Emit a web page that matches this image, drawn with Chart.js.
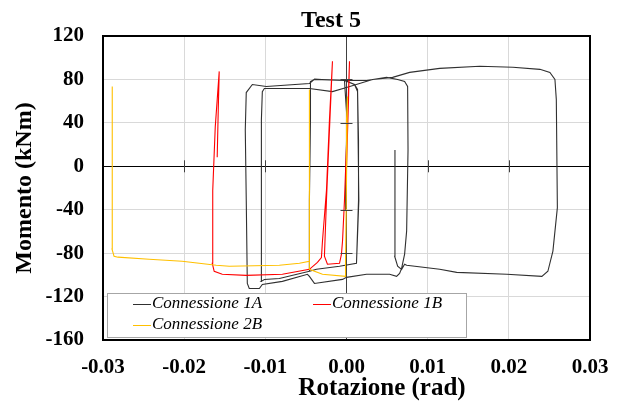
<!DOCTYPE html>
<html>
<head>
<meta charset="utf-8">
<script src="https://cdn.jsdelivr.net/npm/chart.js@4.4.1/dist/chart.umd.min.js"></script>
<style>
  html, body { margin: 0; padding: 0; background: #fff; }
  #box { width: 625px; height: 403px; }
</style>
</head>
<body>
<div id="box"><canvas id="testChart"></canvas></div>
<script>
// dati (rotazione in rad, momento in kNm)
var rot1A = [0, 0, -0.00012, -0.00012, 0, 0, -0.00025, 0.00099, 0.00136, 0.00148, 0.00148, 0.00123, -0.00086, -0.0037, -0.00457,
  -0.00457, -0.00444, -0.00444, -0.00395, -0.00025, 0.00247, 0.00494, 0.0063, 0.00716, 0.00753, 0.00758, 0.00741, 0.00716,
  0.00679, 0.00654, 0.00617, 0.00531, 0.00247, 0, -0.00049, -0.00395, -0.00457, -0.00481, -0.0079, -0.01037, -0.01074,
  -0.01198, -0.01222, -0.01235, -0.01247, -0.01235, -0.0116, -0.00988, -0.00457, -0.00395, -0.00025, 0.00099, 0.00136,
  0.00152, 0.00123, -0.00086, -0.0037, -0.00457, -0.00827, -0.01012, -0.01049, -0.01045, -0.01052, -0.01037, -0.01012,
  -0.00457, -0.00173, 0, 0.00321, 0.00568, 0.00778, 0.01148, 0.01642, 0.0205, 0.02383, 0.02506, 0.02568, 0.02585, 0.02598,
  0.02543, 0.02481, 0.02407, 0.01975, 0.01358, 0.01148, 0.00741, 0.00716, 0.00679, 0.0063, 0.00593, 0.00597];
var mom1A = [0, 24.2, -22.3, -40.9, 10, 50, 79.1, 75.3, 70.7, 24.2, -31.6, -89.3, -92.1, -94.9, -96.7,
  -31.6, 42.8, 78.1, 80, 79.1, 79, 81.9, 80, 78.1, 73.5, 14.9, -59.5, -80.9,
  -94, -98.6, -101.4, -99.5, -99.5, -102.3, -104.2, -107.9, -101.4, -99.5, -106, -108.8, -112.6,
  -112.6, -107.9, -31.6, 33.5, 67.9, 75.3, 73.5, 76.3, 80, 79.1, 75.3, 68.8,
  -31.6, -89.3, -92.1, -94.9, -96.7, -103.3, -104.2, -106, -31.6, 42.8, 68.8, 71.6,
  71.6, 68.8, 72.6, 80, 81.9, 86.5, 90.2, 92.1, 91.2, 89.3, 86.5, 80, 61.4, -38.1,
  -78.1, -96.7, -101.4, -99.5, -97.7, -94.9, -91.2, -90.2, -94.9, -92.1, -82.8, 14.9];

var rot1B = [0, 0.00025, 0.00037, 0.00012, -0.00025, -0.00049, -0.00062, -0.00086, -0.00235, -0.00272, -0.00247, -0.0021,
  -0.00173, -0.0021, -0.00247, -0.00296, -0.00309, -0.00358, -0.00457, -0.0079, -0.01235, -0.01531, -0.0163, -0.01654,
  -0.01648, -0.01617, -0.01593, -0.01568, -0.0158, -0.01593];
var mom1B = [0, 61.4, 96.7, 42.8, -31.6, -68.8, -80.9, -89.3, -90.2, -82.8, -31.6, 33.5,
  96.7, 42.8, -22.3, -68.8, -84, -88.5, -94.9, -99.5, -100.5, -99.5, -96.7, -89.3,
  -22.3, 36.3, 61.4, 87.4, 52.1, 8.4];

var rot2B = [0, 0, 0.00012, 0, -0.00012, -0.00012, -0.00296, -0.00457, -0.00457, -0.00457, -0.00457, -0.00457, -0.0058,
  -0.00827, -0.01444, -0.01605, -0.02025, -0.02432, -0.02815, -0.02864, -0.02889, -0.02889, -0.02889, -0.02889, -0.02877];
var mom2B = [0, 42.8, 64.2, -13, -87.4, -101.4, -99.5, -94.9, -31.6, 42.8, 70.7, -87.4, -89.3,
  -91.2, -92.1, -91.2, -87.4, -85.6, -83.7, -82.8, -76.3, 14.9, 61.4, 73.5, 33.5];

var xTicks = [-0.03, -0.02, -0.01, 0, 0.01, 0.02, 0.03];
var yTicks = [-160, -120, -80, -40, 0, 40, 80, 120];

function punti(xs, ys) {
  var out = [];
  for (var i = 0; i < xs.length; i++) out.push({ x: xs[i], y: ys[i] });
  return out;
}

var serifFont = "'Liberation Serif', 'DejaVu Serif', serif";

// titolo, titolo asse x, tacche sugli assi centrali, legenda e cornice (come in Excel)
var excelLook = {
  id: 'excelLook',
  afterDraw: function(chart) {
    var c = chart.ctx, a = chart.chartArea;
    var sx = chart.scales.x, sy = chart.scales.y;
    var x0 = sx.getPixelForValue(0), y0 = sy.getPixelForValue(0);
    c.save();
    c.strokeStyle = '#404040';
    c.lineWidth = 1;
    xTicks.forEach(function(v) {
      if (v === 0 || v === xTicks[0] || v === xTicks[xTicks.length - 1]) return;
      var px = Math.round(sx.getPixelForValue(v)) + 0.5;
      c.beginPath(); c.moveTo(px, y0 - 6); c.lineTo(px, y0 + 6); c.stroke();
    });
    yTicks.forEach(function(v) {
      if (v === 0 || v === yTicks[0] || v === yTicks[yTicks.length - 1]) return;
      var py = Math.round(sy.getPixelForValue(v)) + 0.5;
      c.beginPath(); c.moveTo(x0 - 6, py); c.lineTo(x0 + 6, py); c.stroke();
    });

    // legenda
    var lx = 107, ly = 293, lw = 359, lh = 44;
    c.fillStyle = '#fff';
    c.fillRect(lx, ly, lw, lh);
    c.strokeStyle = '#a6a6a6';
    c.strokeRect(lx + 0.5, ly + 0.5, lw, lh);
    var pos = [[133, 304], [313, 304], [133, 325]];
    c.font = 'italic 17px ' + serifFont;
    c.textBaseline = 'middle';
    c.textAlign = 'left';
    chart.data.datasets.forEach(function(ds, i) {
      var p = pos[i];
      c.strokeStyle = ds.borderColor;
      c.lineWidth = 1;
      c.beginPath(); c.moveTo(p[0], p[1] + 0.5); c.lineTo(p[0] + 18, p[1] + 0.5); c.stroke();
      c.fillStyle = '#000';
      c.fillText(ds.label, p[0] + 19, p[1]);
    });

    // cornice
    c.strokeStyle = '#000';
    c.lineWidth = 2;
    c.strokeRect(a.left, a.top, a.right - a.left, a.bottom - a.top);

    // titoli
    c.fillStyle = '#000';
    c.textAlign = 'center';
    c.textBaseline = 'middle';
    c.font = 'bold 24px ' + serifFont;
    c.fillText('Test 5', 331, 21);
    c.font = 'bold 25px ' + serifFont;
    c.fillText('Rotazione (rad)', 382, 389);
    c.restore();
  }
};

var ctx = document.getElementById('testChart');
var testChart = new Chart(ctx, {
  type: 'scatter',
  data: {
    datasets: [
      { label: 'Connessione 1A', data: punti(rot1A, mom1A), borderColor: '#303030', order: 2 },
      { label: 'Connessione 1B', data: punti(rot1B, mom1B), borderColor: '#ff0000', order: 1 },
      { label: 'Connessione 2B', data: punti(rot2B, mom2B), borderColor: '#ffc000', order: 0 }
    ]
  },
  options: {
    responsive: true,
    maintainAspectRatio: false,
    animation: false,
    showLine: true,
    elements: {
      point: { radius: 0, hoverRadius: 0 },
      line: { borderWidth: 1.1, tension: 0, fill: false }
    },
    layout: { padding: { left: 0, right: 35, top: 36, bottom: 0 } },
    plugins: {
      legend: { display: false },
      tooltip: { enabled: false },
      title: { display: false }
    },
    scales: {
      x: {
        type: 'linear',
        min: -0.03,
        max: 0.03,
        afterBuildTicks: function(scale) {
          scale.ticks = xTicks.map(function(v) { return { value: v }; });
        },
        afterFit: function(scale) { scale.height = 63; },
        grid: {
          drawTicks: false,
          color: function(c) { return Math.abs(c.tick.value) < 1e-9 ? '#404040' : '#d9d9d9'; }
        },
        border: { display: false },
        ticks: {
          padding: 15,
          color: '#000',
          font: { family: serifFont, size: 21, weight: 'bold' },
          callback: function(v) { return Number(v).toFixed(2); }
        }
      },
      y: {
        type: 'linear',
        min: -160,
        max: 120,
        afterBuildTicks: function(scale) {
          scale.ticks = yTicks.map(function(v) { return { value: v }; });
        },
        afterFit: function(scale) { scale.width = 103; },
        grid: {
          drawTicks: false,
          color: function(c) { return c.tick.value === 0 ? '#000' : '#d9d9d9'; }
        },
        border: { display: false },
        ticks: {
          padding: 19,
          color: '#000',
          font: { family: serifFont, size: 21, weight: 'bold' }
        },
        title: {
          display: true,
          text: 'Momento (kNm)',
          color: '#000',
          font: { family: serifFont, size: 24, weight: 'bold' },
          padding: { top: 10, bottom: 0 }
        }
      }
    }
  },
  plugins: [excelLook]
});
</script>
</body>
</html>
